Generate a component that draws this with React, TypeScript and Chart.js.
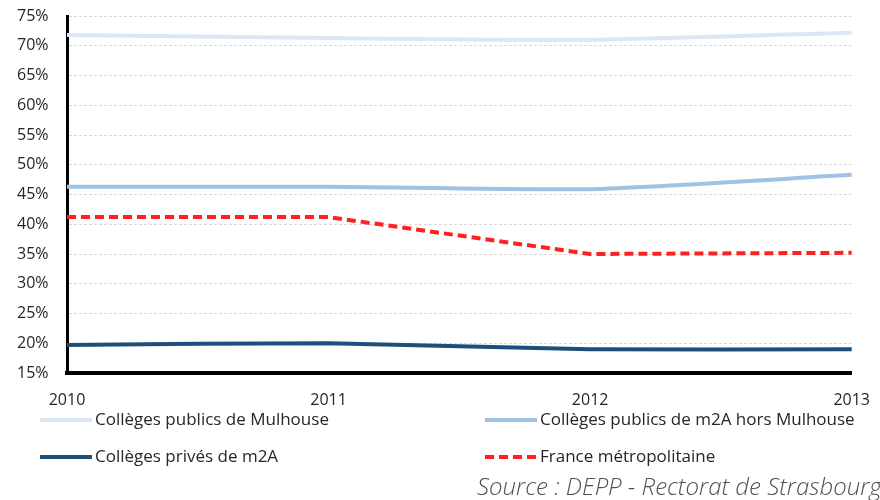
import React, { useEffect, useRef } from "react";
import { Chart, registerables } from "chart.js";

Chart.register(...registerables);

const years = ["2010", "2011", "2012", "2013"];
const publicsMulhouse = [71.8, 71.3, 71.0, 72.2];
const publicsM2A = [46.3, 46.3, 45.9, 48.3];
const privesM2A = [19.7, 20.0, 19.0, 19.0];
const franceMetro = [41.2, 41.2, 35.0, 35.2];

const seriesLabels = [
  "Collèges publics de Mulhouse",
  "Collèges publics de m2A hors Mulhouse",
  "Collèges privés de m2A",
  "France métropolitaine",
];
const sourceText = "Source : DEPP - Rectorat de Strasbourg";

const FONT = "'Open Sans', 'Noto Sans', sans-serif";

const legendPlugin = {
  id: "customLegend",
  afterDraw(chart: any) {
    const ctx = chart.ctx;
    const cols = [40, 485];
    const rows = [420, 457];
    chart.data.datasets.forEach((ds: any, i: number) => {
      const x = cols[i % 2];
      const y = rows[Math.floor(i / 2)];
      ctx.save();
      ctx.strokeStyle = ds.borderColor;
      ctx.lineWidth = 4;
      ctx.setLineDash(ds.borderDash || []);
      ctx.beginPath();
      ctx.moveTo(x, y);
      ctx.lineTo(x + 52, y);
      ctx.stroke();
      ctx.setLineDash([]);
      ctx.fillStyle = "#262626";
      ctx.font = `17px ${FONT}`;
      ctx.textBaseline = "middle";
      ctx.textAlign = "left";
      ctx.fillText(ds.label, x + 55, y);
      ctx.restore();
    });
    ctx.save();
    ctx.fillStyle = "#505050";
    ctx.font = `italic 300 24px ${FONT}`;
    ctx.textBaseline = "middle";
    ctx.textAlign = "left";
    ctx.fillText(sourceText, 477, 488);
    ctx.restore();
  },
};

export default function App() {
  const ref = useRef<HTMLCanvasElement | null>(null);
  useEffect(() => {
    document.body.style.margin = "0";
    const chart = new Chart(ref.current!, {
      type: "line",
      data: {
        labels: years,
        datasets: [
          {
            label: seriesLabels[0],
            data: publicsMulhouse,
            borderColor: "#dce7f4",
            borderWidth: 4,
            tension: 0.2,
            pointRadius: 0,
          },
          {
            label: seriesLabels[1],
            data: publicsM2A,
            borderColor: "#9dc3e6",
            borderWidth: 4,
            tension: 0.2,
            pointRadius: 0,
          },
          {
            label: seriesLabels[2],
            data: privesM2A,
            borderColor: "#1f4e79",
            borderWidth: 4,
            tension: 0.2,
            pointRadius: 0,
          },
          {
            label: seriesLabels[3],
            data: franceMetro,
            borderColor: "#ff2020",
            borderWidth: 4,
            borderDash: [9, 5],
            tension: 0,
            pointRadius: 0,
          },
        ],
      },
      options: {
        animation: false,
        responsive: false,
        layout: { padding: { top: 16, right: 27, left: 17, bottom: 0 } },
        plugins: { legend: { display: false }, tooltip: { enabled: false } },
        scales: {
          x: {
            grid: { display: false },
            border: { display: true, color: "#000", width: 4 },
            ticks: {
              color: "#262626",
              font: { family: FONT, size: 16 },
              padding: 10,
              maxRotation: 0,
            },
            afterFit(scale: any) {
              scale.height = 127;
            },
          },
          y: {
            min: 15,
            max: 75,
            grid: { color: "#d9d9d9", lineWidth: 1, drawTicks: false },
            border: { display: true, color: "#000", width: 3, dash: [3, 2] },
            ticks: {
              stepSize: 5,
              color: "#262626",
              font: { family: FONT, size: 16 },
              padding: 0,
              crossAlign: "far",
              callback: (v: any) => `${v}%`,
            },
            afterFit(scale: any) {
              scale.width = 50;
            },
          },
        },
      },
      plugins: [legendPlugin],
    });
    return () => chart.destroy();
  }, []);
  return <canvas ref={ref} width={880} height={500} style={{ display: "block" }} />;
}
